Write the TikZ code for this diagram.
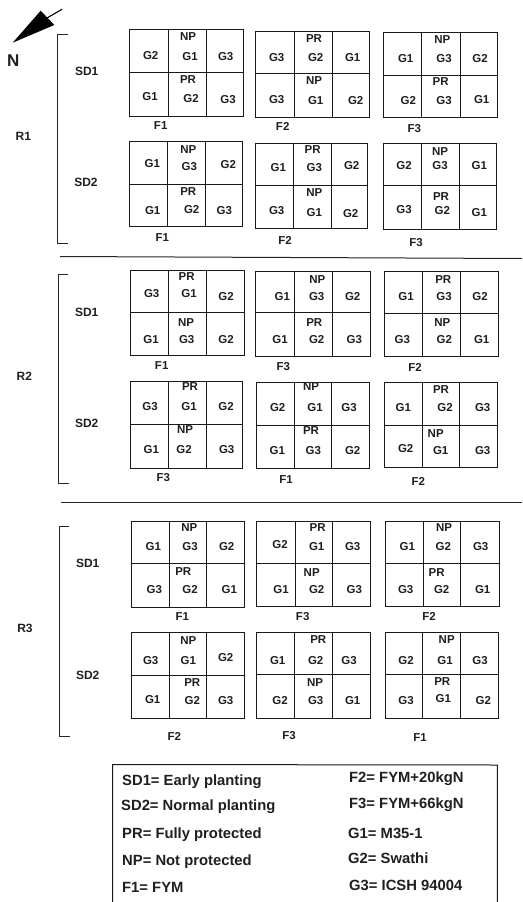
\documentclass[tikz,border=0pt]{standalone}
\usepackage{fontspec}
\setmainfont{Liberation Sans}
\tikzset{
  plotline/.style={line width=1pt,black!90},
  brack/.style={line width=0.9pt,black!85},
  sep/.style={line width=1pt,black!85},
  lab/.style={inner sep=0pt,font=\fontsize{11.5}{13}\selectfont\bfseries,text=black!88},
  side/.style={inner sep=0pt,font=\fontsize{12}{13}\selectfont\bfseries,text=black!88},
  leg/.style={inner sep=0pt,anchor=west,font=\fontsize{14.8}{16}\selectfont\bfseries,text=black!88}
}
\begin{document}
\begin{tikzpicture}[x=1pt,y=-1pt]
\useasboundingbox (0,0) rectangle (522,902);
% north arrow
\coordinate (t1) at (47,18); \coordinate (t2) at (62,9.3);
\draw[line width=1.1pt] (t1) -- (t2);
\fill[black] (12.7,42.7) -- (40.7,10.7) -- (54.3,25) -- cycle;
\node[side,font=\fontsize{17}{18}\selectfont\bfseries] (north) at (13.3,60.7) {N};
% brackets
\draw[brack] (68,34) -- (57.5,34) -- (57.5,243) -- (68,243);
\draw[brack] (68,274.3) -- (58,274.3) -- (58,483.3) -- (68.5,483.3);
\draw[brack] (69,526) -- (59,526) -- (59,736.7) -- (69.5,736.7);
\draw[sep] (60,256.5) -- (522,258.5);
\draw[sep] (61,502) -- (522,502);
\foreach \n/\x/\y/\t in {r1/23.3/136/R1,r2/24.3/376.7/R2,r3/25/628.3/R3,
  a1/86.7/71.7/SD1,a2/86/182.7/SD2,a3/86.7/312.3/SD1,a4/86.7/423.3/SD2,a5/87.7/563.3/SD1,a6/87.7/675/SD2}
  {\node[side] (\n) at (\x,\y) {\t};}
% plots: left/top/right/bottom/divider1/divider2/mid
\foreach \l/\t/\r/\b/\p/\q/\m in {
 129.5/29.5/243/116/168/206/72,
 255/31.7/369/117/294/332/73,
 383.3/32/497.7/117/421.7/460/75,
 129.3/141.7/242.3/226.7/167.3/205/184,
 255/143.3/367.7/228.3/293/331/185.7,
 383.3/143.7/496.7/229/421/459/185.7,
 130.7/270/244/355/168.7/206.7/312.3,
 255.7/271/370.7/356/294.3/332.3/312.7,
 384/271.3/498.3/356.7/422.3/460/313.3,
 130/381.7/242.3/468.3/168/206/424.3,
 256/382/369/468/294/331.7/425,
 384/382.3/497.7/467.7/422/459.7/425,
 131.7/521/244.3/607/169.3/206.7/563.7,
 256.7/521/370.7/606.3/295/332.3/563.7,
 385/521/499/606.3/423/460.7/563.7,
 131/632.7/244/718.7/169/206.7/675.3,
 256.7/632.7/370/718/294.3/332.3/674.7,
 385/632/498.3/718/422.3/460.7/674.7}{
 \draw[plotline] (\l,\t) rectangle (\r,\b);
 \draw[plotline] (\p,\t) -- (\p,\b);
 \draw[plotline] (\q,\t) -- (\q,\b);
 \draw[plotline] (\l,\m) -- (\r,\m);
}
% cell labels
\foreach \x/\y/\t [count=\i] in {
 150.7/55.7/G2,188/37/NP,190/57/G1,225.7/57/G3,150/97/G1,188/80/PR,191/99/G2,228/100/G3,
 276.7/57.7/G3,314/39/PR,315.7/57.7/G2,352.7/57.7/G1,276.7/100/G3,314/80.7/NP,315.7/101/G1,355.7/101/G2,
 405.7/58.3/G1,442.3/39.3/NP,444/58.3/G3,480/58.3/G2,408.3/101/G2,440.7/81.7/PR,444/101/G3,481.7/99.3/G1,
 160.7/126/F1,282.7/126.7/F2,414.3/129/F3,
 152.3/164/G1,188.3/149.3/NP,189.3/166.7/G3,228.3/165/G2,152.7/210.7/G1,188.3/191.7/PR,191.7/210/G2,224.3/210.7/G3,
 278.3/167.7/G1,312.7/150/PR,314.3/167.7/G3,351.7/166/G2,276.7/211/G3,314.3/192.7/NP,314.3/212.7/G1,350.7/213.3/G2,
 404/166/G2,440/151.3/NP,440/166/G3,479.3/166/G1,404/209.3/G3,441/196.7/PR,442.3/211/G2,479.3/212.7/G1,
 162.3/237.3/F1,285/240.7/F2,416/242.3/F3,
 151.7/293.3/G3,186.7/276.7/PR,189/293.3/G1,226/296.7/G2,151/339.3/G1,186/322.3/NP,186.7/339.3/G3,226/339.3/G2,
 282.3/296.7/G1,317.3/280/NP,316.7/296.7/G3,352.7/296.7/G2,280/339.3/G1,314.3/322.3/PR,316.7/339.3/G2,354.3/339.3/G3,
 406/296.7/G1,443.3/280/PR,444/296.7/G3,480/296.7/G2,402.3/340/G3,442.3/322.7/NP,444.3/340/G2,481.7/340/G1,
 161.7/366/F1,283.3/366.7/F3,415/367.7/F2,
 150/406.7/G3,190/386.7/PR,189/406.7/G1,226/406.7/G2,151.3/450/G1,185/430/NP,184/450/G2,226.7/450/G3,
 277.7/407.3/G2,311/386.7/NP,315/407.3/G1,349/407.3/G3,277.3/450.7/G1,311/430.7/PR,313.3/450.7/G3,352.7/450.7/G2,
 403.3/407.3/G1,441/390/PR,445/407.3/G2,482.7/407.3/G3,405.7/448.3/G2,435.7/433.3/NP,440.7/450.7/G1,482.7/450.7/G3,
 163.3/477.3/F3,286/480/F1,418.3/481/F2,
 153.3/546.3/G1,189.3/527.7/NP,190/546.3/G3,226.7/546.3/G2,154.3/589.7/G3,183.3/572/PR,190/589.7/G2,229.3/589.7/G1,
 280/544.3/G2,317.7/527.7/PR,316.7/546.3/G1,352.7/546.3/G3,281/589.7/G1,311.7/572.7/NP,316.7/589.7/G2,354.3/589.7/G3,
 407.3/546.3/G1,444/527.7/NP,443.3/546.3/G2,480.7/546.3/G3,405.7/589.7/G3,436.7/573/PR,441.7/589.7/G2,482.7/589.7/G1,
 182.3/616.3/F1,302.7/616.3/F3,429/616.3/F2,
 150.7/661/G3,188.3/640.3/NP,188.3/661/G1,225.7/657.7/G2,152.7/699.3/G1,192.3/683/PR,192.3/701/G2,225.7/701/G3,
 277.7/660.3/G1,318.3/639.7/PR,315.7/660.3/G2,349/660.3/G3,280/701/G2,315/682.7/NP,315.7/701/G3,352.7/701/G1,
 406/660.3/G2,446.7/639.7/NP,445/660.3/G1,480/660.3/G3,406/701/G3,442.3/682/PR,443.3/698.7/G1,483.3/701/G2,
 174.3/736.3/F2,289/736/F3,420/737.7/F1}
 {\node[lab] (c\i) at (\x,\y) {\t};}
% legend
\draw[plotline] (112.7,902) -- (112.7,764.5) -- (497.3,765) -- (497.3,902);
\foreach \n/\x/\y/\t in {
 l1/122/782/SD1= Early planting, l2/121/807/SD2= Normal planting, l3/122/835/PR= Fully protected,
 l4/122/862/NP= Not protected, l5/122/887/F1= FYM, l6/349/779/F2= FYM+20kgN, l7/349/805/F3= FYM+66kgN,
 l8/348/833/G1= M35-1, l9/348/858/G2= Swathi, l10/349/885/G3= ICSH 94004}
 {\node[leg] (\n) at (\x,\y) {\t};}
\end{tikzpicture}
\end{document}
